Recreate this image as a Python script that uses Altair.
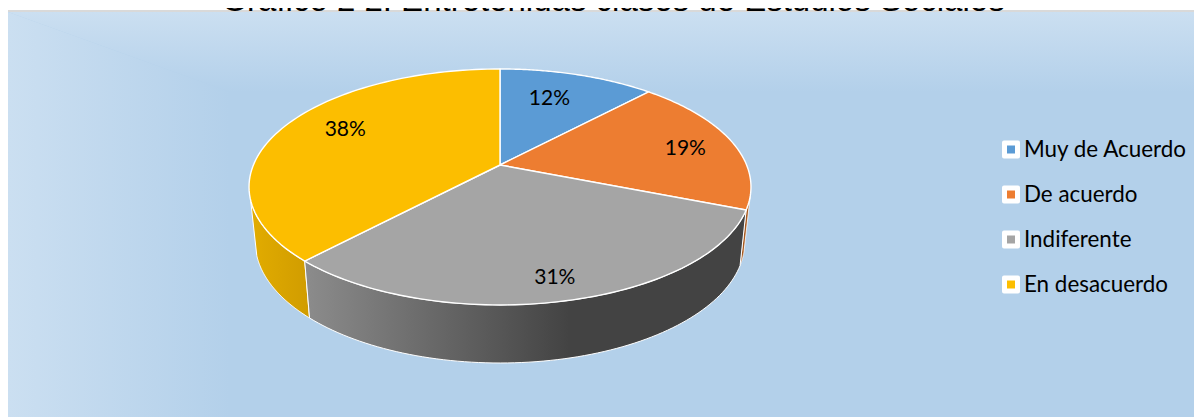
import math
import altair as alt

# ---- data ----
categories = ["Muy de Acuerdo", "De acuerdo", "Indiferente", "En desacuerdo"]
percent = [12, 19, 31, 38]
labels = ["12%", "19%", "31%", "38%"]
colors = ["#5b9bd5", "#ed7d31", "#a5a5a5", "#fcbe00"]
title_text = "Gráfico 2 2:  Entretenidas clases de Estudios Sociales"
label_radius = [0.69, 0.785, 0.86, 0.74]
label_along = [0.44, 0.53, 0.50, 0.532]

W, H = 1202, 417
M = 8  # page margin
K = 0.186


def top(theta, r=1.0):
    s, c = math.sin(theta), math.cos(theta)
    d = 1 + K * r * c
    return [500 + 246.6 * r * s / d, 165 - 113.9 * r * c / d]


def bottom(theta):
    s, c = math.sin(theta), math.cos(theta)
    d = 1 + K * c
    return [500 + 240.5 * s / d, 219.5 - 116.8 * c / d]


def arc(fn, a, b, n=80):
    return [fn(a + (b - a) * i / n) for i in range(n + 1)]


def poly(points):
    pts = list(points)
    if pts[0] != pts[-1]:
        pts.append(pts[0])
    return {"type": "Feature", "properties": {}, "geometry": {"type": "Polygon", "coordinates": [pts]}}


def shape(points, fill, stroke=None, width=0.0):
    data = alt.InlineData(values={"type": "FeatureCollection", "features": [poly(points)]},
                          format=alt.DataFormat(property="features", type="json"))
    return alt.Chart(data).mark_geoshape(
        fill=fill, stroke=stroke if stroke else "transparent", strokeWidth=width
    ).project(type="identity", scale=1, translate=[-M, -M])


def grad(stops, horizontal=True):
    return alt.LinearGradient(
        gradient="linear",
        stops=[alt.GradientStop(color=c, offset=o) for c, o in stops],
        x1=0, y1=0, x2=1 if horizontal else 0, y2=0 if horizontal else 1,
    )


LIGHT, BASE = "#cbdff1", "#b3d0ea"
layers = [
    shape([[7, 10], [W, 10], [W, H], [7, H]], "#d9d9d9"),
    shape([[8, 12], [W, 12], [W, H], [8, H]], BASE),
    shape([[8, 12], [W, 12], [W, 92], [230, 92]], grad([(LIGHT, 0), (BASE, 1)], horizontal=False)),
    shape([[8, 12], [230, 92], [230, H], [8, H]], grad([(LIGHT, 0), (BASE, 1)])),
]

# boundaries follow the percentages
cum = [0]
for p in percent:
    cum.append(cum[-1] + p)
ang = [c / 100 * 2 * math.pi for c in cum]

# side walls
yellow_end = math.radians(253)
orange_start = math.radians(105)
layers.append(shape(arc(top, orange_start, ang[2]) + arc(bottom, ang[2], orange_start),
                    "#a85a20", "#ffffff", 0.8))
layers.append(shape(arc(top, ang[3], yellow_end) + arc(bottom, yellow_end, ang[3]),
                    grad([("#e2ac00", 0), ("#d09c00", 1)]), "#ffffff", 1))
layers.append(shape(arc(top, ang[2], ang[3]) + arc(bottom, ang[3], ang[2]),
                    grad([("#8c8c8c", 0), ("#434343", 0.6), ("#434343", 1)]), "#ffffff", 1))

# top face
for i, col in enumerate(colors):
    layers.append(shape([[500, 165]] + arc(top, ang[i], ang[i + 1]), col, "#ffffff", 1.4))

# data labels
rows = []
for i, lab in enumerate(labels):
    mid = ang[i] + (ang[i + 1] - ang[i]) * label_along[i]
    px, py = top(mid, label_radius[i])
    rows.append({"label": lab, "px": px, "py": py})
pix_x = alt.Scale(domain=[0, W], range=[-M, W - M])
pix_y = alt.Scale(domain=[0, H], range=[-M, H - M])
layers.append(
    alt.Chart(alt.Data(values=rows)).mark_text(font="Lato", fontSize=21, color="#000000").encode(
        x=alt.X("px:Q", scale=pix_x, axis=None),
        y=alt.Y("py:Q", scale=pix_y, axis=None),
        text="label:N",
    )
)

# legend
legend_rows = [{"cat": c, "rank": i} for i, c in enumerate(categories)]
legend_y = alt.Y("rank:Q", scale=alt.Scale(domain=[0, 3], range=[149.5 - M, 284.5 - M]), axis=None)
base = alt.Chart(alt.Data(values=legend_rows))
layers.append(base.mark_square(size=196, fill="#ffffff", stroke="#ffffff", strokeWidth=4,
                               strokeJoin="round", opacity=1)
              .encode(x=alt.value(1011 - M), y=legend_y))
layers.append(base.mark_square(size=64, opacity=1)
              .encode(x=alt.value(1011 - M), y=legend_y,
                      fill=alt.Fill("cat:N", scale=alt.Scale(domain=categories, range=colors), legend=None)))
layers.append(base.mark_text(font="Lato", fontSize=22.4, align="left", color="#000000")
              .encode(x=alt.value(1024 - M), y=legend_y, text="cat:N"))

# title: only its lower edge shows, cut by the top edge of the drawing, as in the picture
layers.append(alt.Chart(alt.Data(values=[{"t": title_text}]))
              .mark_text(font="Liberation Sans", fontSize=33, align="center", baseline="alphabetic", color="#000000")
              .encode(x=alt.value(613 - M), y=alt.value(3), text="t:N"))

chart = alt.layer(*layers).resolve_scale(x="independent", y="independent", fill="independent").properties(
    width=W - 2 * M, height=H - M, padding=0,
    autosize=alt.AutoSizeParams(type="none"),
    background="#ffffff",
).configure_view(stroke=None)

chart.save("out.html", embed_options={"renderer": "svg", "actions": False})
